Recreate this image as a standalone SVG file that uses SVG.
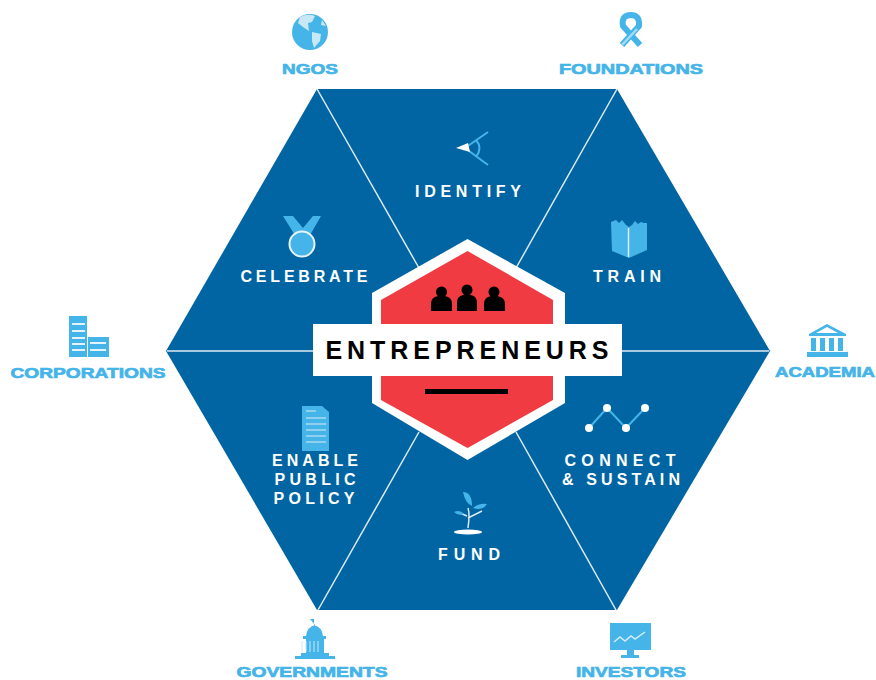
<svg xmlns="http://www.w3.org/2000/svg" width="876" height="680" viewBox="0 0 876 680">
<style>
text{font-family:"Liberation Sans",Arial,sans-serif;font-weight:700;text-anchor:middle}
.o{fill:#45b4e8;font-size:15px;stroke:#45b4e8;stroke-width:.7px}
.i{fill:#fff;font-size:16px}
.ic{fill:#45b4e8}
.w{fill:#fff}
.sl{fill:none;stroke:#45b4e8;stroke-width:2}
.sep{stroke:#dcebf3;stroke-width:1.5;fill:none}
</style>
<rect width="876" height="680" fill="#fff"/>
<g id="hexagon"><polygon points="317,89 617,89 770,351 617,610 317,610 166,351" fill="#0065a2"/></g>
<g id="connectors">
<line class="sep" x1="317" y1="89" x2="419" y2="268"/>
<line class="sep" x1="617" y1="89" x2="516" y2="268"/>
<line class="sep" x1="167" y1="351" x2="313" y2="351"/>
<line class="sep" x1="622" y1="351" x2="769" y2="351"/>
<line class="sep" x1="318" y1="610" x2="419" y2="432"/>
<line class="sep" x1="616" y1="610" x2="516" y2="432"/>
</g>
<g id="center">
<polygon class="w" points="467.5,239 565,293 565,403 467.5,460 372,403 372,293"/>
<polygon fill="#ef3b41" points="467.5,251 553,300 553,400 467.5,448 381,400 381,300"/>
<g fill="#000">
<circle cx="441.500" cy="292" r="5.500"/><path d="M431 311v-7q0-7 7-8h7q7 1 7 8v7z"/>
<circle cx="467" cy="290" r="5.500"/><path d="M457 311v-8q0-7 6-8h8q6 1 6 8v8z"/>
<circle cx="494" cy="292" r="5.500"/><path d="M484 311v-7q0-7 7-8h6q8 1 8 8v7z"/>
</g>
<rect class="w" x="313" y="324" width="309" height="52"/>
<text x="467" y="359" font-size="25" fill="#000" textLength="283" lengthAdjust="spacing">ENTREPRENEURS</text>
<rect x="425" y="389" width="83" height="5" fill="#000"/>
</g>
<g id="identify">
<path class="sl" d="M488 132L465 148L488 165M476 140Q483 148 476 157" stroke-width="1.500"/>
<path class="w" d="M456 148L468 143L470 152Z"/>
<text class="i" x="468" y="197" textLength="106">IDENTIFY</text>
</g>
<g id="train">
<path class="ic" d="M611 222l5-2 3 3 3-3 4 5 3 2 3-2 3-4 3 3 3-2 3 1 3 0v27l-18 8-17-7z"/>
<path d="M628.500 228v29" stroke="#dcebf3" stroke-width="1.500"/>
<text class="i" x="627" y="282" textLength="68">TRAIN</text>
</g>
<g id="connect">
<path class="sl" d="M589 428L607 408L626 428L645 408"/>
<circle class="w" cx="589" cy="428" r="4"/><circle class="w" cx="607" cy="408" r="4"/><circle class="w" cx="626" cy="428" r="4"/><circle class="w" cx="645" cy="408" r="4"/>
<text class="i" x="620" y="466" textLength="111">CONNECT</text>
<text class="i" x="621" y="485" textLength="118">&amp; SUSTAIN</text>
</g>
<g id="fund">
<path d="M468 528q2-14 0-20M468 518l14-7M467 516l-7-3" stroke="#dcebf3" stroke-width="1.500" fill="none"/>
<path class="ic" d="M463 492q9 0 9 14q-7-3-9-14zM473 508q6-5 14-4q-4 7-14 4zM454 512q6-3 10 2q-6 2-10-2z"/>
<ellipse class="w" cx="468" cy="532" rx="14" ry="2.500"/>
<text class="i" x="469" y="560" textLength="62">FUND</text>
</g>
<g id="policy">
<path class="ic" d="M302 406h20l7 6v39h-27z"/>
<path d="M306 411h10M306 418h20M306 424h20M306 430h20M306 436h20M306 442h20" stroke="#dcebf3" stroke-width="1.200"/>
<text class="i" x="315" y="466" textLength="86">ENABLE</text>
<text class="i" x="315" y="485" textLength="81">PUBLIC</text>
<text class="i" x="314" y="504" textLength="81">POLICY</text>
</g>
<g id="celebrate">
<path class="ic" d="M283 216h10l10 12 10-12h8l-12 21h-13z"/>
<circle class="ic" cx="302" cy="244" r="12.500" stroke="#e8f4fa" stroke-width="2"/>
<text class="i" x="304" y="282" textLength="127">CELEBRATE</text>
</g>
<g id="ngos">
<circle class="ic" cx="310" cy="32" r="18"/>
<path fill="#c9e8f7" d="M300 17q8-4 15-1l-3 6-4 1 1 8-6-4-5-4zM312 32l9 2-1 7-6 7-2-7zM322 20l4 6-5-1z"/>
<text class="o" x="310" y="74" textLength="56" lengthAdjust="spacingAndGlyphs">NGOS</text>
</g>
<g id="foundations">
<path fill="none" stroke="#45b4e8" stroke-width="6" stroke-linejoin="round" d="M622 45L639 26Q640 15 631 15Q621 15 623 26L640 45"/>
<path fill="none" stroke="#a3dcf5" stroke-width="2.500" d="M622 45L637 29"/>
<text class="o" x="631" y="74" textLength="144" lengthAdjust="spacingAndGlyphs">FOUNDATIONS</text>
</g>
<g id="corporations">
<path class="ic" d="M69 316h18v41h-18zM88 337h21v20h-21z"/>
<g fill="#e4f4fc"><path d="M72 323h13v2h-13zM72 330h13v2h-13zM72 337h13v2h-13zM72 343h13v2h-13zM72 349h13v2h-13zM90 342h16v2h-16zM90 349h16v2h-16z"/></g>
<text class="o" x="88" y="378" textLength="155" lengthAdjust="spacingAndGlyphs">CORPORATIONS</text>
</g>
<g id="academia">
<path class="ic" d="M809 334l18-10 19 10v2h-37zM807 352h41v5h-41z"/>
<path fill="#fff" d="M816 333l11-6 11 6z"/>
<path d="M811 338h5v13h-5zM820 338h5v13h-5zM829 338h5v13h-5zM838 338h5v13h-5z" class="ic"/>
<text class="o" x="825" y="377" textLength="100" lengthAdjust="spacingAndGlyphs">ACADEMIA</text>
</g>
<g id="governments">
<path class="ic" d="M310 619h4v6q8 2 9 11h3v3h-2v14h5v3h6v3h-40v-3h6v-3h5v-14h-3v-3h3q1-9 9-11z"/>
<path d="M302 641v11M306 641v11M310 641v11M314 641v11M318 641v11" stroke="#c9e8f7"/>
<text class="o" x="312" y="677" textLength="151" lengthAdjust="spacingAndGlyphs">GOVERNMENTS</text>
</g>
<g id="investors">
<rect class="ic" x="610" y="623" width="41" height="27"/>
<path class="ic" d="M627 650h7v5h5v3h-18v-3h6z"/>
<path d="M614 642l6-5 5 4 6-5 4 3 10-7" stroke="#d5eefa" stroke-width="1.500" fill="none"/>
<text class="o" x="631" y="677" textLength="110" lengthAdjust="spacingAndGlyphs">INVESTORS</text>
</g>
</svg>
